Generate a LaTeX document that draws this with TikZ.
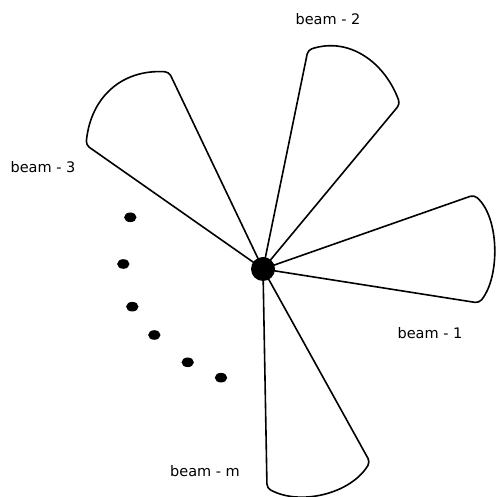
\documentclass[tikz,border=0pt]{standalone}
\usepackage{fontspec}
\setmainfont{DejaVu Sans}
\usetikzlibrary{shapes.geometric}
\begin{document}
\begin{tikzpicture}[x=1pt,y=1pt,
  beamshape/.style={draw=black, line width=1.6pt, line join=round, rounded corners=4pt},
  lbl/.style={font=\fontsize{14.5}{17}\selectfont, anchor=base, inner sep=0pt, text=black},
  smalldot/.style={ellipse, fill=black, draw=none, minimum width=12.4pt, minimum height=9.6pt, inner sep=0pt},
  hubdot/.style={circle, fill=black, draw=none, minimum size=24pt, inner sep=0pt}]
\useasboundingbox (0,0) rectangle (495,497);
\coordinate (c) at (263,228);
% beam 1
\coordinate (b1a) at (474,302);
\coordinate (b1b) at (479,194);
\draw[beamshape] (c) -- (b1a) to[out=-41,in=51,looseness=0.8] (b1b) -- cycle;
% beam 2
\coordinate (b2a) at (308,447);
\coordinate (b2b) at (400,393);
\draw[beamshape] (c) -- (b2a) to[out=18,in=110,looseness=1.05] (b2b) -- cycle;
% beam 3
\coordinate (b3a) at (86,352);
\coordinate (b3b) at (169,425);
\draw[beamshape] (c) -- (b3a) to[out=84.5,in=176.5,looseness=1.1] (b3b) -- cycle;
% beam m
\coordinate (bma) at (370,35);
\coordinate (bmb) at (267,9);
\draw[beamshape] (c) -- (bma) to[out=-121,in=-29,looseness=0.9] (bmb) -- cycle;
% hub
\node[hubdot] (hub) at (c) {};
% dots
\node[smalldot] (d1) at (130.3,279.7) {};
\node[smalldot] (d2) at (123.3,233) {};
\node[smalldot] (d3) at (132.3,190.3) {};
\node[smalldot] (d4) at (154.3,162) {};
\node[smalldot] (d5) at (187.7,134.7) {};
\node[smalldot] (d6) at (221,119.3) {};
% labels
\node[lbl] (l2) at (328,472) {beam - 2};
\node[lbl] (l3) at (43,324.3) {beam - 3};
\node[lbl] (l1) at (430,158.7) {beam - 1};
\node[lbl] (lm) at (205,20.3) {beam - m};
\end{tikzpicture}
\end{document}
